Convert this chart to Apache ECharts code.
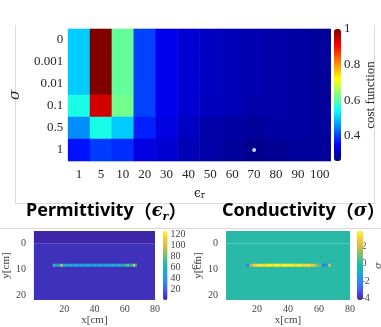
<!DOCTYPE html>
<html><head><meta charset="utf-8">
<style>html,body{margin:0;padding:0;background:#fff}#c{width:381px;height:327px}</style>
<script src="https://cdn.jsdelivr.net/npm/echarts@6/dist/echarts.min.js"></script>
</head><body><div id="c"></div>
<script>
// ---------- data: top cost-function map ----------
const sigmaLabels = ['0', '0.001', '0.01', '0.1', '0.5', '1'];
const epsLabels = ['1', '5', '10', '20', '30', '40', '50', '60', '70', '80', '90', '100'];
const costSigma0    = [0.50, 1.00, 0.61, 0.40, 0.34, 0.32, 0.31, 0.300, 0.295, 0.290, 0.285, 0.280];
const costSigma0001 = [0.50, 1.00, 0.61, 0.40, 0.34, 0.32, 0.31, 0.300, 0.295, 0.290, 0.285, 0.280];
const costSigma001  = [0.50, 1.00, 0.61, 0.40, 0.34, 0.32, 0.31, 0.300, 0.295, 0.290, 0.285, 0.280];
const costSigma01   = [0.555, 0.94, 0.62, 0.40, 0.34, 0.32, 0.305, 0.300, 0.290, 0.290, 0.285, 0.280];
const costSigma05   = [0.455, 0.555, 0.50, 0.375, 0.33, 0.31, 0.290, 0.285, 0.280, 0.285, 0.285, 0.280];
const costSigma1    = [0.365, 0.395, 0.385, 0.33, 0.32, 0.30, 0.290, 0.280, 0.270, 0.275, 0.280, 0.280];
const costRows = [costSigma0, costSigma0001, costSigma001, costSigma01, costSigma05, costSigma1];
const costRange = [0.26, 1];
const costTicks = [0.4, 0.6, 0.8, 1];
const minPoint = ['70', '1'];

// ---------- data: reconstructed fields (cm) ----------
const fieldX = [0, 80];
const fieldY = [-5, 22];
const surfaceDepth = 0;
const epsAir = 1, epsSoil = 5;
const sigAir = 0, sigSoil = 0;
const targetDepth = [7.8, 9.0];
const epsEdges = [12.5, 13.5, 15, 17.5, 19, 22, 26, 30, 34, 38, 42, 46, 50, 54, 58, 61, 63, 65.5, 67, 68];
const epsLine  = [80, 55, 50, 110, 55, 52, 50, 48, 50, 52, 50, 48, 52, 55, 58, 80, 60, 105, 70];
const sigEdges = [13, 15, 17, 20, 25, 30, 35, 40, 45, 50, 55, 58, 60, 62, 64, 66, 67.5];
const sigLine  = [-2.5, 1.5, 3.0, 3.3, 3.5, 3.6, 3.6, 3.5, 3.4, 3.2, 2.5, 1.0, 0.5, -2.5, -1.5, 2.5];
const epsRange = [1, 127];
const epsTicks = [20, 40, 60, 80, 100, 120];
const sigRange = [-4.2, 3.8];
const sigTicks = [-4, -2, 0, 2];
const xTicks = [20, 40, 60, 80];
const yTicks = [0, 10, 20];

// ---------- build ----------
const heatData = [];
costRows.forEach((row, j) => row.forEach((v, i) => heatData.push([i, j, v])));

function fieldRects(air, soil, edges, vals) {
  const r = [
    [fieldX[0], fieldX[1], fieldY[0], surfaceDepth, air],
    [fieldX[0], fieldX[1], surfaceDepth, fieldY[1], soil]
  ];
  for (let k = 0; k < vals.length; k++) r.push([edges[k], edges[k + 1], targetDepth[0], targetDepth[1], vals[k]]);
  return r;
}
const permData = fieldRects(epsAir, epsSoil, epsEdges, epsLine);
const condData = fieldRects(sigAir, sigSoil, sigEdges, sigLine);

const jet = ['#000080', '#0000ff', '#0080ff', '#00ffff', '#80ff80', '#ffff00', '#ff8000', '#ff0000', '#800000'];
const parula = ['#3e26a8', '#4653f1', '#2f85f5', '#1aa5dd', '#1ab8b0', '#62c17c', '#c4bd47', '#fcc43a', '#f9fb15'];

const serif = 'Liberation Serif';
const tickFont = { fontFamily: serif, fontSize: 13, color: '#262626' };
const smallFont = { fontFamily: serif, fontSize: 10, color: '#444' };

function renderRect(params, api) {
  const p0 = api.coord([api.value(0), api.value(2)]);
  const p1 = api.coord([api.value(1), api.value(3)]);
  return {
    type: 'rect',
    shape: { x: Math.min(p0[0], p1[0]), y: Math.min(p0[1], p1[1]), width: Math.abs(p1[0] - p0[0]), height: Math.abs(p1[1] - p0[1]) },
    style: { fill: api.visual('color') }
  };
}

const PL = { left: 29, top: 231, width: 126, height: 69 };
const PR = { left: 226, top: 231, width: 124, height: 69 };

function fieldXAxis(gi) {
  return { type: 'value', gridIndex: gi, min: fieldX[0], max: fieldX[1],
    axisLine: { show: false }, axisTick: { show: false }, splitLine: { show: false },
    axisLabel: Object.assign({ customValues: xTicks, margin: 4 }, smallFont),
    name: 'x[cm]', nameLocation: 'middle', nameGap: 14, nameTextStyle: Object.assign({}, smallFont, { fontSize: 11 }) };
}
function fieldYAxis(gi) {
  return { type: 'value', gridIndex: gi, min: fieldY[0], max: fieldY[1], inverse: true,
    axisLine: { show: false }, axisTick: { show: false }, splitLine: { show: false },
    axisLabel: Object.assign({ customValues: yTicks, margin: 8 }, smallFont),
    name: 'y[cm]', nameLocation: 'middle', nameGap: 16, nameRotate: 90, nameTextStyle: Object.assign({}, smallFont, { fontSize: 11 }) };
}
function barAxis(gi, range, ticks, name, gap, fmt) {
  return { type: 'value', gridIndex: gi, position: 'right', min: range[0], max: range[1],
    axisLine: { show: false }, axisTick: { show: false }, splitLine: { show: false },
    axisLabel: Object.assign({ customValues: ticks, margin: 3, formatter: fmt }, gi === 1 ? tickFont : smallFont),
    name: name, nameLocation: 'middle', nameRotate: 90, nameGap: gap,
    nameTextStyle: Object.assign({}, gi === 1 ? tickFont : smallFont, {
      rich: { e: { fontFamily: 'DejaVu Serif', fontStyle: 'italic', fontSize: 10, color: '#444' },
              s: { fontFamily: 'DejaVu Serif', fontStyle: 'italic', fontSize: 7, color: '#444', verticalAlign: 'bottom', lineHeight: 8 } } }) };
}
function hiddenX(gi) { return { type: 'value', gridIndex: gi, show: false, min: 0, max: 1 }; }

const option = {
  backgroundColor: '#fff',
  animation: false,
  title: [
    { text: 'Permittivity{p|（}{e|ϵ}{s|r}{p|）}', left: 26, top: 199, padding: 0,
      textStyle: { fontFamily: 'Noto Sans', fontWeight: 'bold', fontSize: 18, color: '#000', lineHeight: 24,
        rich: { p: { fontFamily: 'Noto Sans CJK JP', fontSize: 18, fontWeight: 'bold', lineHeight: 24 },
                e: { fontFamily: 'DejaVu Serif', fontStyle: 'italic', fontSize: 18, lineHeight: 24 },
                s: { fontFamily: 'DejaVu Serif', fontStyle: 'italic', fontSize: 11, verticalAlign: 'bottom', lineHeight: 12 } } } },
    { text: 'Conductivity{p|（}{e|σ}{p|）}', left: 222, top: 199, padding: 0,
      textStyle: { fontFamily: 'Noto Sans', fontWeight: 'bold', fontSize: 18, color: '#000', lineHeight: 24,
        rich: { p: { fontFamily: 'Noto Sans CJK JP', fontSize: 18, fontWeight: 'bold', lineHeight: 24 },
                e: { fontFamily: 'DejaVu Serif', fontStyle: 'italic', fontSize: 18, lineHeight: 24 } } } }
  ],
  grid: [
    { left: 62.7, top: 29, width: 268, height: 132, show: true, borderColor: '#e2e2e2', borderWidth: 1, backgroundColor: 'transparent' },
    { left: 334, top: 29, width: 7, height: 132 },
    { left: PL.left, top: PL.top, width: PL.width, height: PL.height },
    { left: 163, top: 231, width: 4.5, height: 69 },
    { left: PR.left, top: PR.top, width: PR.width, height: PR.height },
    { left: 357, top: 231, width: 6, height: 69 }
  ],
  xAxis: [
    { type: 'category', gridIndex: 0, data: epsLabels, axisLine: { show: false }, axisTick: { show: false },
      axisLabel: Object.assign({ margin: 7, interval: 0 }, tickFont),
      name: '{e|ϵ}{s|r}', nameLocation: 'middle', nameGap: 27,
      nameTextStyle: { rich: { e: { fontFamily: 'DejaVu Serif', fontSize: 12, color: '#262626' },
                               s: { fontFamily: 'DejaVu Serif', fontSize: 9, color: '#262626', verticalAlign: 'bottom', lineHeight: 10 } } } },
    hiddenX(1),
    fieldXAxis(2),
    hiddenX(3),
    fieldXAxis(4),
    hiddenX(5)
  ],
  yAxis: [
    { type: 'category', gridIndex: 0, data: sigmaLabels, inverse: true, axisLine: { show: false }, axisTick: { show: false },
      axisLabel: Object.assign({ margin: 5, interval: 0 }, tickFont),
      name: 'σ', nameLocation: 'middle', nameGap: 36, nameRotate: 90,
      nameTextStyle: { fontFamily: 'DejaVu Serif', fontStyle: 'italic', fontSize: 15, color: '#262626' } },
    barAxis(1, costRange, costTicks, 'cost function', 22, v => String(v)),
    fieldYAxis(2),
    barAxis(3, epsRange, epsTicks, '{e|ϵ}{s|r}', 14, v => String(v)),
    fieldYAxis(4),
    barAxis(5, sigRange, sigTicks, '{e|σ}', 14, v => String(v))
  ],
  visualMap: [
    { type: 'continuous', seriesIndex: 0, min: costRange[0], max: costRange[1], inRange: { color: jet },
      left: 334, top: 29, itemWidth: 7, itemHeight: 132, padding: 0, calculable: false, text: null, showLabel: false },
    { type: 'continuous', seriesIndex: 2, dimension: 4, min: epsRange[0], max: epsRange[1], inRange: { color: parula },
      left: 163, top: 231, itemWidth: 4.5, itemHeight: 69, padding: 0, calculable: false, text: null },
    { type: 'continuous', seriesIndex: 3, dimension: 4, min: sigRange[0], max: sigRange[1], inRange: { color: parula },
      left: 357, top: 231, itemWidth: 6, itemHeight: 69, padding: 0, calculable: false, text: null }
  ],
  series: [
    { type: 'heatmap', xAxisIndex: 0, yAxisIndex: 0, data: heatData, itemStyle: { borderWidth: 0 }, emphasis: { disabled: true } },
    { type: 'scatter', xAxisIndex: 0, yAxisIndex: 0, data: [minPoint], symbolSize: 4, itemStyle: { color: '#ffffff' }, silent: true, z: 5 },
    { type: 'custom', xAxisIndex: 2, yAxisIndex: 2, data: permData, renderItem: renderRect, encode: { x: [0, 1], y: [2, 3] }, clip: true, silent: true },
    { type: 'custom', xAxisIndex: 4, yAxisIndex: 4, data: condData, renderItem: renderRect, encode: { x: [0, 1], y: [2, 3] }, clip: true, silent: true }
  ],
  graphic: [
    { type: 'line', shape: { x1: 15.5, y1: 25, x2: 15.5, y2: 203 }, style: { stroke: '#dadada', lineWidth: 1 }, z: -1 },
    { type: 'line', shape: { x1: 374.5, y1: 25, x2: 374.5, y2: 203 }, style: { stroke: '#dadada', lineWidth: 1 }, z: -1 },
    { type: 'line', shape: { x1: 15, y1: 203.5, x2: 375, y2: 203.5 }, style: { stroke: '#dadada', lineWidth: 1 }, z: -1 },
    { type: 'line', shape: { x1: 0, y1: 228.5, x2: 381, y2: 228.5 }, style: { stroke: '#dadada', lineWidth: 1 }, z: -1 }
  ]
};
const chart = echarts.init(document.getElementById('c'));
chart.setOption(option);
</script></body></html>
